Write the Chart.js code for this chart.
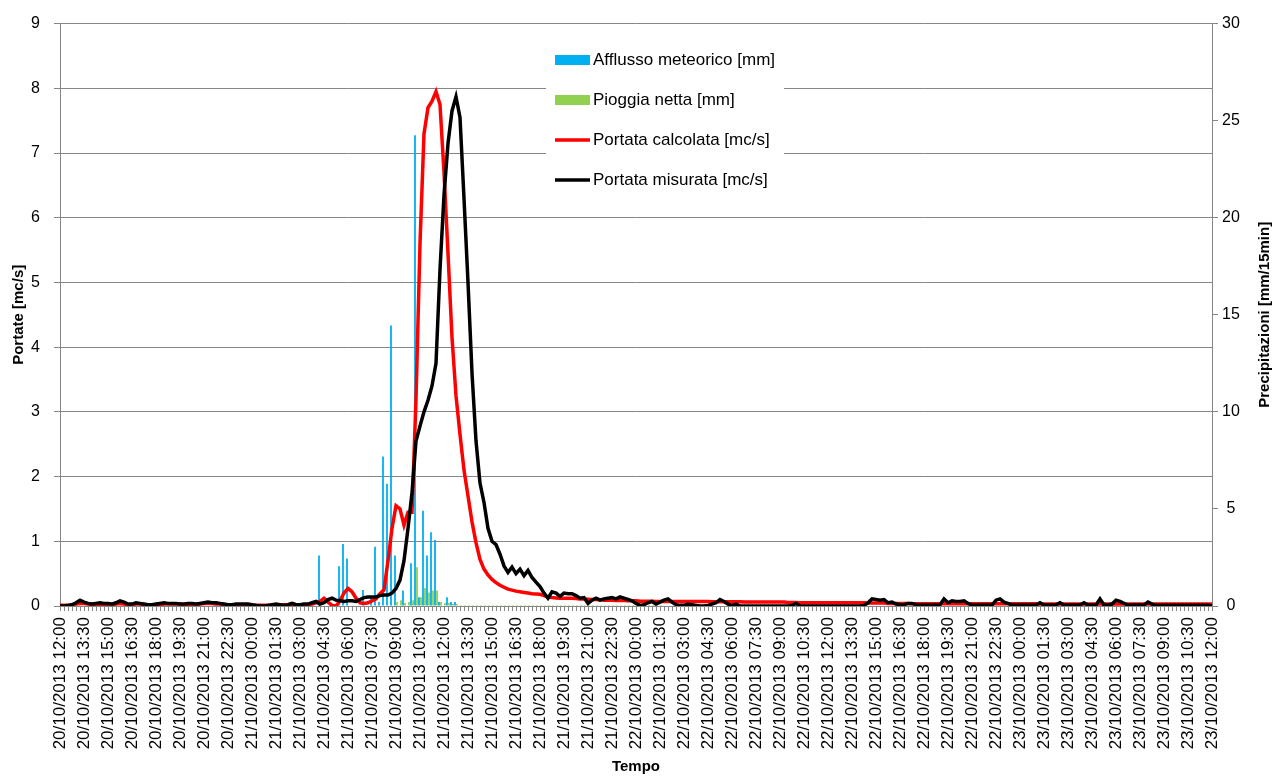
<!DOCTYPE html>
<html>
<head>
<meta charset="utf-8">
<script src="https://cdn.jsdelivr.net/npm/chart.js@4.4.0/dist/chart.umd.min.js"></script>
<style>
html, body { margin: 0; padding: 0; background: #fff; }
#wrap { width: 1282px; height: 776px; }
</style>
</head>
<body>
<div id="wrap"><canvas id="chart" width="1282" height="776"></canvas></div>
<script>
// 1 TICK LABELS (one every 6 steps of 15 min)
const tickLabels = [
  '20/10/2013 12:00','20/10/2013 13:30','20/10/2013 15:00','20/10/2013 16:30','20/10/2013 18:00','20/10/2013 19:30',
  '20/10/2013 21:00','20/10/2013 22:30','21/10/2013 00:00','21/10/2013 01:30','21/10/2013 03:00','21/10/2013 04:30',
  '21/10/2013 06:00','21/10/2013 07:30','21/10/2013 09:00','21/10/2013 10:30','21/10/2013 12:00','21/10/2013 13:30',
  '21/10/2013 15:00','21/10/2013 16:30','21/10/2013 18:00','21/10/2013 19:30','21/10/2013 21:00','21/10/2013 22:30',
  '22/10/2013 00:00','22/10/2013 01:30','22/10/2013 03:00','22/10/2013 04:30','22/10/2013 06:00','22/10/2013 07:30',
  '22/10/2013 09:00','22/10/2013 10:30','22/10/2013 12:00','22/10/2013 13:30','22/10/2013 15:00','22/10/2013 16:30',
  '22/10/2013 18:00','22/10/2013 19:30','22/10/2013 21:00','22/10/2013 22:30','23/10/2013 00:00','23/10/2013 01:30',
  '23/10/2013 03:00','23/10/2013 04:30','23/10/2013 06:00','23/10/2013 07:30','23/10/2013 09:00','23/10/2013 10:30',
  '23/10/2013 12:00'
];
const stepsPerTick = 6;

// 2 SERIES (15 min steps, 289 values)
// Portata calcolata [mc/s]
const portataCalcolata = [
  0.01,0.01,0.01,0.02,0.03,0.04,0.04,0.03,0.02,0.02,
  0.02,0.02,0.02,0.02,0.03,0.04,0.03,0.02,0.02,0.03,
  0.03,0.02,0.02,0.02,0.02,0.02,0.03,0.03,0.03,0.03,
  0.03,0.02,0.02,0.02,0.02,0.03,0.04,0.04,0.04,0.03,
  0.03,0.02,0.02,0.01,0.01,0.01,0.01,0.01,0.01,0.01,
  0.01,0.01,0.01,0.01,0.02,0.02,0.02,0.02,0.03,0.02,
  0.02,0.02,0.02,0.03,0.05,0.07,0.12,0.06,0.01,0.00,
  0.08,0.20,0.27,0.22,0.12,0.05,0.04,0.05,0.08,0.11,
  0.19,0.25,0.70,1.20,1.55,1.50,1.25,1.45,1.45,3.20,
  5.60,7.30,7.70,7.80,7.95,7.75,6.70,5.45,4.15,3.25,
  2.65,2.10,1.70,1.30,0.98,0.72,0.57,0.48,0.41,0.36,
  0.32,0.29,0.26,0.245,0.23,0.22,0.21,0.20,0.19,0.185,
  0.18,0.16,0.14,0.13,0.125,0.12,0.12,0.12,0.12,0.115,
  0.11,0.11,0.105,0.10,0.10,0.095,0.09,0.09,0.09,0.085,
  0.085,0.085,0.08,0.08,0.08,0.075,0.075,0.075,0.075,0.07,
  0.07,0.07,0.07,0.07,0.07,0.07,0.07,0.07,0.07,0.07,
  0.07,0.07,0.07,0.065,0.065,0.065,0.065,0.065,0.065,0.065,
  0.065,0.06,0.06,0.06,0.06,0.06,0.06,0.06,0.06,0.06,
  0.06,0.06,0.055,0.055,0.055,0.05,0.05,0.05,0.05,0.05,
  0.05,0.05,0.05,0.05,0.05,0.05,0.05,0.05,0.05,0.05,
  0.05,0.05,0.045,0.045,0.045,0.045,0.045,0.04,0.04,0.04,
  0.04,0.04,0.04,0.035,0.035,0.035,0.035,0.035,0.035,0.035,
  0.035,0.035,0.035,0.035,0.035,0.035,0.035,0.035,0.035,0.035,
  0.035,0.035,0.035,0.035,0.035,0.035,0.035,0.035,0.035,0.035,
  0.035,0.035,0.035,0.035,0.035,0.03,0.03,0.03,0.03,0.03,
  0.03,0.03,0.03,0.03,0.03,0.03,0.03,0.03,0.03,0.03,
  0.03,0.03,0.03,0.03,0.03,0.03,0.03,0.03,0.03,0.03,
  0.03,0.03,0.03,0.03,0.03,0.03,0.03,0.03,0.03,0.03,
  0.03,0.03,0.03,0.03,0.03,0.03,0.03,0.03,0.03
];
// Portata misurata [mc/s]
const portataMisurata = [
  0,0,0.01,0.02,0.05,0.09,0.06,0.04,0.03,0.04,
  0.05,0.04,0.04,0.03,0.05,0.08,0.06,0.03,0.03,0.05,
  0.04,0.03,0.02,0.02,0.03,0.04,0.05,0.04,0.04,0.04,
  0.03,0.03,0.04,0.04,0.03,0.04,0.05,0.06,0.05,0.05,
  0.04,0.03,0.02,0.02,0.03,0.03,0.03,0.03,0.02,0.01,
  0,0,0.01,0.02,0.03,0.02,0.01,0.02,0.04,0.02,
  0.02,0.03,0.03,0.05,0.07,0.03,0.05,0.10,0.12,0.09,
  0.08,0.07,0.08,0.08,0.07,0.10,0.13,0.14,0.14,0.14,
  0.16,0.17,0.17,0.20,0.27,0.40,0.70,1.20,1.75,2.55,
  2.78,3.00,3.18,3.40,3.75,5.20,6.35,7.15,7.65,7.87,
  7.55,6.30,5.00,3.60,2.55,1.90,1.60,1.20,1.00,0.95,
  0.80,0.62,0.52,0.60,0.50,0.57,0.47,0.55,0.44,0.37,
  0.30,0.20,0.12,0.22,0.20,0.15,0.20,0.19,0.19,0.16,
  0.12,0.13,0.04,0.09,0.12,0.09,0.11,0.12,0.13,0.11,
  0.14,0.12,0.10,0.08,0.04,0.01,0.02,0.05,0.07,0.03,
  0.06,0.09,0.11,0.06,0.02,0.01,0.01,0.03,0.02,0.01,
  0,0,0.01,0.03,0.05,0.10,0.07,0.03,0.01,0.03,
  0,0,0,0,0,0,0,0,0,0,
  0,0,0,0.01,0.04,0,0,0,0,0,
  0,0,0,0,0,0,0,0,0,0,
  0,0.01,0.05,0.11,0.10,0.09,0.10,0.05,0.06,0.03,
  0.02,0.02,0.04,0.04,0.02,0.015,0.015,0.015,0.015,0.015,
  0.02,0.11,0.05,0.08,0.07,0.07,0.08,0.04,0.015,0.015,
  0.015,0.015,0.015,0.015,0.09,0.11,0.06,0.04,0.015,0.015,
  0.015,0.015,0.015,0.015,0.015,0.05,0.015,0.015,0.015,0.02,
  0.05,0.015,0.015,0.015,0.015,0.015,0.05,0.015,0.015,0.015,
  0.11,0.015,0.015,0.03,0.09,0.07,0.04,0.015,0.015,0.015,
  0.015,0.015,0.06,0.03,0.01,0.01,0.01,0.01,0.01,0.01,
  0.01,0.01,0.01,0.01,0.01,0.01,0.01,0.01,0
];
// Afflusso meteorico [mm] (step index -> mm)
const afflussoAt = [65,70,71,72,76,78,79,80,81,82,83,84,86,88,89,90,91,92,93,94,95,97,98,99];
const afflussoMm = [2.6,2.05,3.2,2.45,0.82,0.5,3.05,0.2,7.7,6.3,14.45,2.6,0.8,2.2,24.25,0.45,4.9,2.6,3.8,3.4,0.2,0.45,0.2,0.2];
// Pioggia netta [mm] (step index -> mm)
const nettaAt = [84,85,86,87,88,89,90,91,92,93,94,95,96,97,98,99,
  100,101,102,103,104,105,106,107,108,109,110,111,112,113,114,115,116,117,118,119,
  120,121,122,123,124,125,126,127,128,129,130,131,132,133,134,135,136,137,138,139,
  140,141,142,143,144,145,146,147,148,149,150];
const nettaMm = [0.2,0.3,0.15,0.2,0.3,2.0,0.45,0.93,0.7,0.8,0.8,0.2,0.15,0.15,0.1,0.1,
  0.05,0.05,0.05,0.05,0.05,0.05,0.05,0.05,0.05,0.05,0.05,0.05,0.05,0.05,0.05,0.05,0.05,0.05,0.05,0.05,
  0.05,0.05,0.05,0.05,0.05,0.05,0.05,0.05,0.05,0.05,0.05,0.05,0.05,0.05,0.05,0.05,0.05,0.05,0.05,0.05,
  0.05,0.05,0.05,0.05,0.05,0.05,0.05,0.05,0.05,0.05,0.05];

// 3 BUILD CATEGORY LABELS AND BAR ARRAYS
const nSteps = portataMisurata.length;
const labels = [];
for (let i = 0; i < nSteps; i++) {
    labels.push(i % stepsPerTick === 0 ? tickLabels[i / stepsPerTick] : '');
}
const afflusso = new Array(nSteps).fill(0);
afflussoAt.forEach((k, j) => afflusso[k] = afflussoMm[j]);
const netta = new Array(nSteps).fill(0);
nettaAt.forEach((k, j) => netta[k] = nettaMm[j]);

// 4 COLOURS / FONTS
const FONT = "'Liberation Sans', Arial, sans-serif";
const GRID = '#868686';
const LINE_W = 3.5;
const legendItems = [
    {text: 'Afflusso meteorico [mm]', color: '#00B0F0', box: true},
    {text: 'Pioggia netta [mm]', color: '#92D050', box: true},
    {text: 'Portata calcolata [mc/s]', color: '#FF0000', box: false},
    {text: 'Portata misurata [mc/s]', color: '#000000', box: false}
];

// 5 LEGEND + RIGHT TITLE PLUGIN
const overlay = {
    id: 'overlay',
    afterDraw(chart) {
        const ctx = chart.ctx;
        const area = chart.chartArea;
        ctx.save();
        ctx.fillStyle = '#fff';
        ctx.fillRect(546, 40, 238, 160);
        ctx.font = '17px ' + FONT;
        ctx.textBaseline = 'middle';
        ctx.textAlign = 'left';
        legendItems.forEach((it, k) => {
            const y = 60 + k * 40;
            if (it.box) {
                ctx.fillStyle = it.color;
                ctx.fillRect(555, y - 5, 35, 10);
            } else {
                ctx.strokeStyle = it.color;
                ctx.lineWidth = LINE_W;
                ctx.beginPath();
                ctx.moveTo(555, y);
                ctx.lineTo(590, y);
                ctx.stroke();
            }
            ctx.fillStyle = '#000';
            ctx.fillText(it.text, 593, y);
        });
        // right axis title, read bottom to top like the left one
        ctx.translate(1265, (area.top + area.bottom) / 2);
        ctx.rotate(-Math.PI / 2);
        ctx.font = 'bold 15px ' + FONT;
        ctx.textAlign = 'center';
        ctx.fillText('Precipitazioni [mm/15min]', 0, 0);
        ctx.restore();
    }
};

// 6 CHART
const ctx = document.querySelector('#chart').getContext('2d');
const myChart = new Chart(ctx, {
    data: {
        labels: labels,
        datasets: [
            {type: 'line', label: 'Portata misurata [mc/s]', data: portataMisurata, yAxisID: 'y',
             borderColor: '#000000', borderWidth: LINE_W, pointRadius: 0, tension: 0, order: 0},
            {type: 'line', label: 'Portata calcolata [mc/s]', data: portataCalcolata, yAxisID: 'y',
             borderColor: '#FF0000', borderWidth: LINE_W, pointRadius: 0, tension: 0, order: 1},
            {type: 'bar', label: 'Afflusso meteorico [mm]', data: afflusso, yAxisID: 'y1',
             backgroundColor: '#00B0F0', categoryPercentage: 1, barPercentage: 0.9, order: 2},
            {type: 'bar', label: 'Pioggia netta [mm]', data: netta, yAxisID: 'y1',
             backgroundColor: '#92D050', categoryPercentage: 1, barPercentage: 0.9, order: 3}
        ]
    },
    options: {
        responsive: false,
        animation: false,
        devicePixelRatio: 1,
        layout: {padding: {top: 18, left: 0, right: 0, bottom: 0}},
        plugins: {legend: {display: false}, tooltip: {enabled: false}},
        scales: {
            x: {
                type: 'category',
                offset: false,
                grid: {offset: false, drawOnChartArea: false, drawTicks: true, tickLength: 5, color: GRID},
                border: {color: GRID},
                ticks: {autoSkip: false, minRotation: 90, maxRotation: 90, padding: 6,
                        color: '#000', font: {family: FONT, size: 17}},
                title: {display: true, text: 'Tempo', color: '#000', padding: {top: 0, bottom: 0},
                        font: {family: FONT, size: 15, weight: 'bold'}},
                afterFit: s => { s.height = 170; }
            },
            y: {
                position: 'left',
                min: 0, max: 9,
                ticks: {stepSize: 1, padding: 14, color: '#000', font: {family: FONT, size: 16}},
                grid: {color: GRID, tickLength: 6},
                border: {color: GRID},
                title: {display: true, text: 'Portate [mc/s]', color: '#000', padding: {top: 10, bottom: 0},
                        font: {family: FONT, size: 15, weight: 'bold'}},
                afterFit: s => { s.width = 60; }
            },
            y1: {
                position: 'right',
                min: 0, max: 30,
                ticks: {stepSize: 5, padding: 4, crossAlign: 'center', color: '#000', font: {family: FONT, size: 16}},
                grid: {drawOnChartArea: false, color: GRID, tickLength: 6},
                border: {color: GRID},
                afterFit: s => { s.width = 70; }
            }
        }
    },
    plugins: [overlay]
});
</script>
</body>
</html>
